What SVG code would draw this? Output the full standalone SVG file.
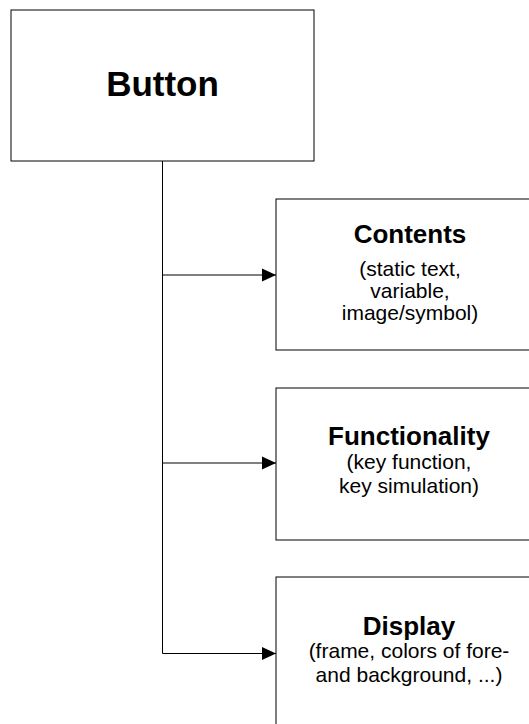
<svg xmlns="http://www.w3.org/2000/svg" width="529" height="724" viewBox="0 0 529 724">
<style>
.box{fill:#fff;stroke:#000;stroke-width:1}
.t{font-family:"Liberation Sans",Arial,sans-serif;text-anchor:middle;fill:#000}
.b{font-weight:bold;font-size:26px}
.s{font-size:21px}
.c{fill:none;stroke:#000;stroke-width:1}
</style>
<defs>
<marker id="ah" markerWidth="14" markerHeight="14" viewBox="0 0 14 14" refX="14" refY="7" orient="auto" markerUnits="userSpaceOnUse">
<path d="M0,0.5 L14,7 L0,13.5 Z" fill="#000"/>
</marker>
</defs>
<rect width="529" height="724" fill="#fff"/>
<g id="button">
<rect class="box" x="11" y="10" width="303" height="151"/>
<text class="t" x="162.5" y="96" font-size="35" font-weight="bold">Button</text>
</g>
<g id="contents">
<rect class="box" x="276" y="199" width="268" height="151"/>
<text class="t b" x="410" y="243">Contents</text>
<text class="t s" x="410" y="276">(static text,</text>
<text class="t s" x="410" y="298">variable,</text>
<text class="t s" x="410" y="320">image/symbol)</text>
</g>
<g id="functionality">
<rect class="box" x="276" y="388" width="268" height="152"/>
<text class="t b" x="409" y="445">Functionality</text>
<text class="t s" x="409" y="469">(key function,</text>
<text class="t s" x="409" y="493">key simulation)</text>
</g>
<g id="display">
<rect class="box" x="276" y="577" width="268" height="152"/>
<text class="t b" x="409" y="635">Display</text>
<text class="t s" x="409" y="658">(frame, colors of fore-</text>
<text class="t s" x="409" y="682">and background, ...)</text>
</g>
<g id="connectors">
<path class="c" d="M162.5,161 V653.5 H276" marker-end="url(#ah)"/>
<path class="c" d="M162.5,275 H276" marker-end="url(#ah)"/>
<path class="c" d="M162.5,463 H276" marker-end="url(#ah)"/>
</g>
</svg>
